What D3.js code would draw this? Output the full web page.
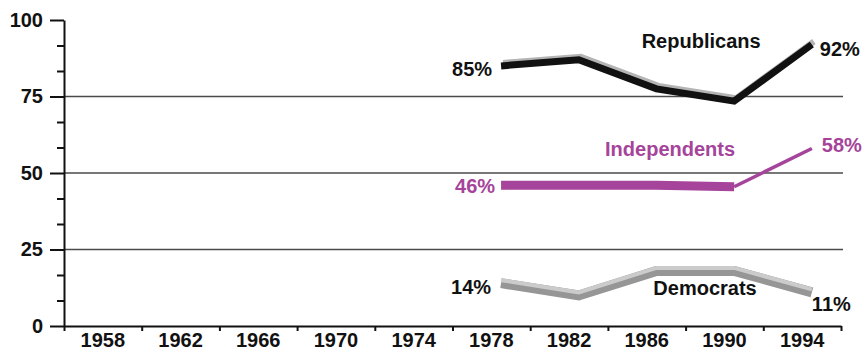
<!DOCTYPE html>
<html>
<head>
<meta charset="utf-8">
<script src="https://cdn.jsdelivr.net/npm/d3@7"></script>
<style>
  html, body { margin: 0; padding: 0; background: #fff; }
  svg { display: block; font-family: "Liberation Sans", Arial, Helvetica, sans-serif; }
</style>
</head>
<body>
<svg id="chart" width="866" height="353"></svg>
<script>
// Share of each party group, by election year (percent)
const years = [1978, 1982, 1986, 1990, 1994];
const republicans = [85, 87, 77.5, 73.5, 92];
const independents = [46, 46, 46, 45.5, 58];
const democrats = [14, 10, 18, 18, 11];

// Axis ticks and labels
const yTicks = [0, 25, 50, 75, 100];
const gridValues = [25, 50, 75];
const yearTicks = [1956, 1960, 1964, 1968, 1972, 1976, 1980, 1984, 1988, 1992, 1996];
const yearLabels = ["1958", "1962", "1966", "1970", "1974", "1978", "1982", "1986", "1990", "1994"];

const svg = d3.select("#chart");
const plotLeft = 64, plotRight = 841, plotTop = 20, plotBottom = 326;

const x = d3.scaleLinear().domain([1956, 1996]).range([plotLeft, plotRight]);
const y = d3.scaleLinear().domain([0, 100]).range([plotBottom, plotTop]);

// each survey sits mid-way through its election year
const px = yr => x(yr + 0.5);

// horizontal rules at 25, 50, 75
svg.append("g")
  .selectAll("line")
  .data(gridValues)
  .join("line")
  .attr("x1", plotLeft).attr("x2", plotRight + 2)
  .attr("y1", d => y(d)).attr("y2", d => y(d))
  .attr("stroke", "#4a4a4a")
  .attr("stroke-width", 1.6);

// y axis: major ticks with labels, minor ticks between them
const yAxis = svg.append("g")
  .attr("transform", `translate(${plotLeft},0)`)
  .call(d3.axisLeft(y).tickValues(yTicks).tickSize(14).tickSizeOuter(0).tickPadding(7));
const minor = d3.range(0, 100, 25 / 3).filter(v => Math.abs(v % 25) > 0.01 && Math.abs(v % 25 - 25) > 0.01);
svg.append("g")
  .attr("transform", `translate(${plotLeft},0)`)
  .call(d3.axisLeft(y).tickValues(minor).tickSize(7).tickSizeOuter(0).tickFormat(""))
  .call(g => g.select(".domain").remove());

// x axis: ticks bound each four-year span, label sits in the middle of it
svg.append("g")
  .attr("transform", `translate(0,${plotBottom})`)
  .call(d3.axisBottom(x).tickValues(yearTicks).tickSize(5).tickSizeOuter(0).tickFormat(""));

svg.selectAll(".domain, .tick line")
  .attr("stroke", "#111")
  .attr("stroke-width", 2);

yAxis.selectAll("text")
  .attr("fill", "#111")
  .style("font-size", "20px")
  .style("font-weight", "bold");

svg.append("g")
  .selectAll("text")
  .data(yearLabels)
  .join("text")
  .attr("x", d => x(+d))
  .attr("y", 347)
  .attr("text-anchor", "middle")
  .attr("fill", "#111")
  .style("font-size", "20px")
  .style("font-weight", "bold")
  .text(d => d);

const line = d3.line().x(d => px(d[0])).y(d => y(d[1]));
const pairs = vals => years.map((yr, i) => [yr, vals[i]]);

// Democrats: grey ribbon with a lighter top face
const dem = pairs(democrats);
svg.append("path").attr("d", line(dem))
  .attr("fill", "none").attr("stroke", "#969696").attr("stroke-width", 10)
  .attr("stroke-linejoin", "miter");
svg.append("path").attr("d", line(dem))
  .attr("transform", "translate(0,-3)")
  .attr("fill", "none").attr("stroke", "#cbcbcb").attr("stroke-width", 4)
  .attr("stroke-linejoin", "miter");

// Independents: broad band through 1990, then a thin rise to 1994
const magenta = "#a5449a";
const ind = pairs(independents);
svg.append("path").attr("d", line(ind.slice(0, 4)))
  .attr("fill", "none").attr("stroke", magenta).attr("stroke-width", 9)
  .attr("stroke-linejoin", "miter");
svg.append("path").attr("d", line(ind.slice(3)))
  .attr("fill", "none").attr("stroke", magenta).attr("stroke-width", 3.5);

// Republicans: black line with a grey edge above it
const rep = pairs(republicans);
svg.append("path").attr("d", line(rep))
  .attr("transform", "translate(2,-3)")
  .attr("fill", "none").attr("stroke", "#b4b4b4").attr("stroke-width", 6)
  .attr("stroke-linejoin", "miter");
svg.append("path").attr("d", line(rep))
  .attr("fill", "none").attr("stroke", "#111").attr("stroke-width", 7)
  .attr("stroke-linejoin", "miter");

// value labels at the ends of each line
const endLabels = [
  { vals: republicans, i: 0, color: "#111", anchor: "end", dx: -9, dy: 10 },
  { vals: republicans, i: 4, color: "#111", anchor: "start", dx: 8, dy: 12 },
  { vals: independents, i: 0, color: magenta, anchor: "end", dx: -6, dy: 8 },
  { vals: independents, i: 4, color: magenta, anchor: "start", dx: 10, dy: 3 },
  { vals: democrats, i: 0, color: "#111", anchor: "end", dx: -10, dy: 11 },
  { vals: democrats, i: 4, color: "#111", anchor: "start", dx: 0, dy: 19 }
];
svg.append("g")
  .selectAll("text")
  .data(endLabels)
  .join("text")
  .attr("x", d => px(years[d.i]) + d.dx)
  .attr("y", d => y(d.vals[d.i]) + d.dy)
  .attr("text-anchor", d => d.anchor)
  .attr("fill", d => d.color)
  .style("font-size", "20px")
  .style("font-weight", "bold")
  .text(d => d.vals[d.i] + "%");

// series names
const names = [
  { name: "Republicans", yr: 1988.8, v: 90.8, color: "#111" },
  { name: "Independents", yr: 1987.2, v: 55.5, color: magenta },
  { name: "Democrats", yr: 1989.0, v: 10.2, color: "#111" }
];
svg.append("g")
  .selectAll("text")
  .data(names)
  .join("text")
  .attr("x", d => x(d.yr))
  .attr("y", d => y(d.v))
  .attr("text-anchor", "middle")
  .attr("fill", d => d.color)
  .style("font-size", "20px")
  .style("font-weight", "bold")
  .text(d => d.name);
</script>
</body>
</html>
